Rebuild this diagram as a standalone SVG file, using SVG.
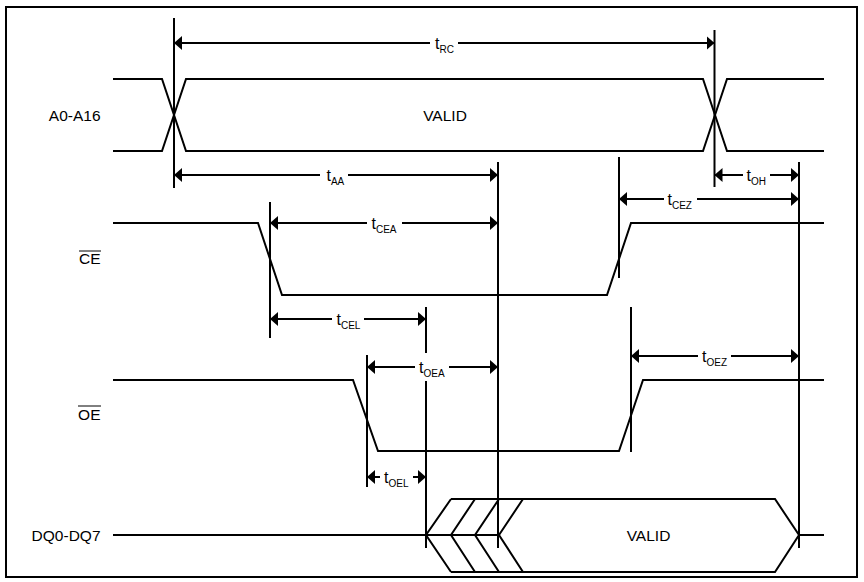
<svg xmlns="http://www.w3.org/2000/svg" width="864" height="582" viewBox="0 0 864 582">
<style>
.sig{fill:none;stroke:#000;stroke-width:2;stroke-linejoin:miter}
.ref{stroke:#000;stroke-width:2}
.dim{stroke:#000;stroke-width:2;marker-end:url(#ah)}
.lbl{font-family:"Liberation Sans",Arial,sans-serif;font-size:15.5px;fill:#000}
.t{font-family:"Liberation Sans",Arial,sans-serif;font-size:16px;fill:#000}
.sub{font-size:10px}
</style>
<defs>
<marker id="ah" markerUnits="userSpaceOnUse" markerWidth="8" markerHeight="14" viewBox="0 0 8 14" refX="8" refY="7" orient="auto">
<path d="M0,0 L8,7 L0,14 z" fill="#000"/>
</marker>
</defs>
<rect x="6" y="7" width="851" height="570" fill="#fff" stroke="#000" stroke-width="2"/>

<g id="sig-addr">
<text class="lbl" x="100.5" y="120.5" text-anchor="end">A0-A16</text>
<path class="sig" d="M113,79 H162 L186,151 H703 L727,79 H824"/>
<path class="sig" d="M113,151 H162 L186,79 H703 L727,151 H824"/>
<text class="lbl" x="445" y="120.5" text-anchor="middle">VALID</text>
</g>

<g id="sig-ce">
<text class="lbl" x="100.5" y="264" text-anchor="end">CE</text>
<line x1="79" y1="251" x2="101" y2="251" stroke="#000" stroke-width="1"/>
<path class="sig" d="M113,223 H258 L282,295 H607 L631,223 H824"/>
</g>

<g id="sig-oe">
<text class="lbl" x="100.5" y="419.5" text-anchor="end">OE</text>
<line x1="78" y1="406" x2="101" y2="406" stroke="#000" stroke-width="1"/>
<path class="sig" d="M113,380 H353 L378,451 H619 L643,380 H824"/>
</g>

<g id="sig-dq">
<text class="lbl" x="100.5" y="540.5" text-anchor="end">DQ0-DQ7</text>
<path class="sig" d="M113,535 H499"/>
<path class="sig" d="M451,499 L426,535 L451,572"/>
<path class="sig" d="M475,499 L451,535 L475,572"/>
<path class="sig" d="M499,499 L475,535 L499,572"/>
<path class="sig" d="M523,499 L499,535 L523,572"/>
<path class="sig" d="M451,499 H775 L799,535 L775,572 H451"/>
<path class="sig" d="M799,535 H824"/>
<text class="lbl" x="648.5" y="540.5" text-anchor="middle">VALID</text>
</g>

<g id="connectors">
<line class="ref" x1="174" y1="18" x2="174" y2="188"/>
<line class="ref" x1="714.5" y1="30" x2="714.5" y2="187"/>
<line class="ref" x1="498" y1="162" x2="498" y2="548"/>
<line class="ref" x1="799" y1="162" x2="799" y2="548"/>
<line class="ref" x1="619" y1="157" x2="619" y2="278"/>
<line class="ref" x1="270" y1="202" x2="270" y2="338"/>
<line class="ref" x1="426" y1="307" x2="426" y2="353"/>
<line class="ref" x1="426" y1="381" x2="426" y2="548"/>
<line class="ref" x1="367" y1="355" x2="367" y2="487"/>
<line class="ref" x1="631" y1="307" x2="631" y2="452"/>

<line class="dim" x1="430" y1="43" x2="174" y2="43"/>
<line class="dim" x1="458" y1="43" x2="714.5" y2="43"/>
<line class="dim" x1="320" y1="175" x2="174" y2="175"/>
<line class="dim" x1="348" y1="175" x2="498" y2="175"/>
<line class="dim" x1="743" y1="175" x2="714.5" y2="175"/>
<line class="dim" x1="770" y1="175" x2="799" y2="175"/>
<line class="dim" x1="664" y1="199" x2="619" y2="199"/>
<line class="dim" x1="697" y1="199" x2="799" y2="199"/>
<line class="dim" x1="367" y1="223" x2="270" y2="223"/>
<line class="dim" x1="402" y1="223" x2="498" y2="223"/>
<line class="dim" x1="332" y1="319" x2="270" y2="319"/>
<line class="dim" x1="364" y1="319" x2="426" y2="319"/>
<line class="dim" x1="415" y1="367" x2="367" y2="367"/>
<line class="dim" x1="449" y1="367" x2="498" y2="367"/>
<line class="dim" x1="698" y1="356" x2="631" y2="356"/>
<line class="dim" x1="731" y1="356" x2="799" y2="356"/>
<line class="dim" x1="380" y1="477" x2="367" y2="477"/>
<line class="dim" x1="413" y1="477" x2="426" y2="477"/>

<text class="t" x="435" y="49">t<tspan class="sub" dy="4">RC</tspan></text>
<text class="t" x="326.5" y="181">t<tspan class="sub" dy="4">AA</tspan></text>
<text class="t" x="746.5" y="181">t<tspan class="sub" dy="4">OH</tspan></text>
<text class="t" x="667.5" y="205">t<tspan class="sub" dy="4">CEZ</tspan></text>
<text class="t" x="371.5" y="229">t<tspan class="sub" dy="4">CEA</tspan></text>
<text class="t" x="336.5" y="325">t<tspan class="sub" dy="4">CEL</tspan></text>
<text class="t" x="419" y="373">t<tspan class="sub" dy="4">OEA</tspan></text>
<text class="t" x="702" y="362">t<tspan class="sub" dy="4">OEZ</tspan></text>
<text class="t" x="384" y="483">t<tspan class="sub" dy="4">OEL</tspan></text>
</g>
</svg>
